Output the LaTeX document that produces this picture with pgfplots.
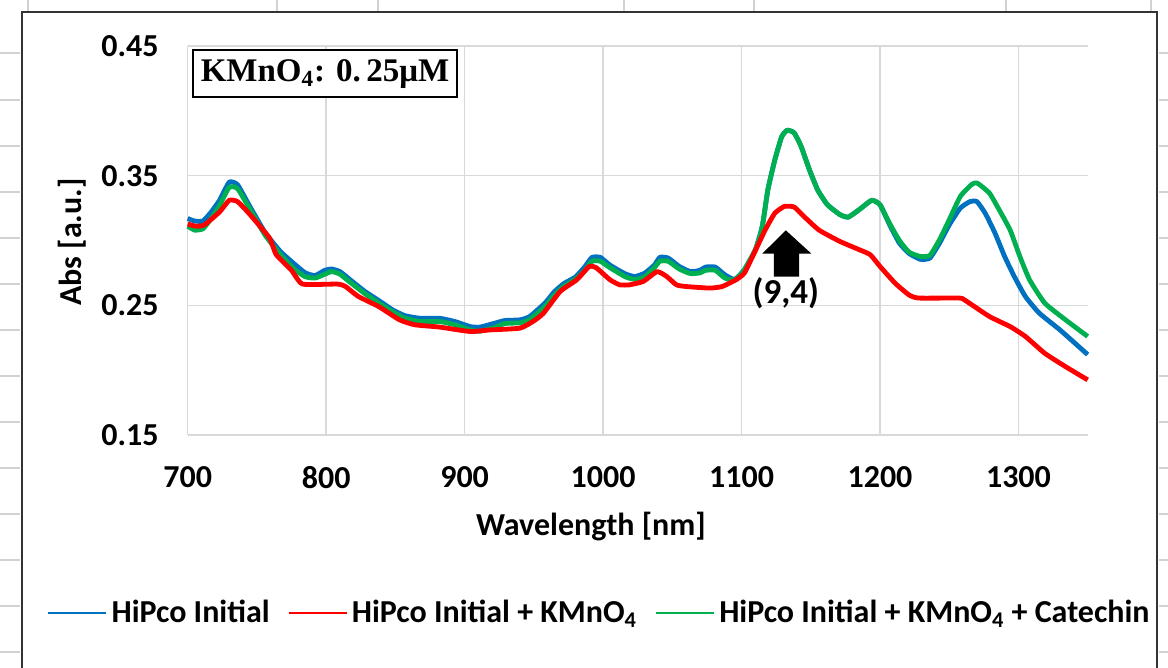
\documentclass[border=0pt]{standalone}
\usepackage{pgfplots}
\usepackage{pgfplotstable}
\pgfplotsset{compat=1.18}
\usepackage{fontspec}
\setmainfont{Carlito}
\newfontfamily\boxfont{Liberation Serif}
\definecolor{exblue}{RGB}{0,112,192}
\definecolor{exred}{RGB}{255,0,0}
\definecolor{exgreen}{RGB}{0,176,80}
\definecolor{gridgray}{RGB}{217,217,217}
\definecolor{sheetgray}{RGB}{210,210,210}

\pgfplotstableread{
wl A
700 0.317
705 0.315
711 0.315
717 0.322
723 0.331
730 0.345
736 0.343
745 0.326
756 0.306
767 0.2915
778 0.281
785 0.275
792 0.273
799 0.277
804 0.278
810 0.276
817 0.270
828 0.2607
839 0.253
848 0.2465
857 0.242
868 0.240
882 0.240
893 0.2375
904 0.2336
911 0.2332
922 0.2363
929 0.2383
940 0.2388
947 0.2414
958 0.2517
965 0.2607
972 0.267
980 0.2718
987 0.280
992 0.287
998 0.287
1005 0.281
1016 0.2743
1023 0.2722
1030 0.2748
1037 0.281
1041 0.287
1047 0.2865
1055 0.280
1063 0.276
1070 0.277
1074 0.2795
1081 0.2795
1088 0.2735
1095 0.270
1102 0.2774
1110 0.2929
1115 0.311
1119 0.339
1124 0.362
1129 0.380
1133 0.385
1138 0.383
1143 0.3726
1149 0.3546
1155 0.339
1162 0.3276
1171 0.320
1177 0.318
1185 0.3238
1194 0.331
1200 0.3276
1207 0.312
1214 0.298
1221 0.290
1229 0.2855
1236 0.2864
1243 0.298
1250 0.312
1258 0.325
1265 0.330
1270 0.330
1276 0.321
1283 0.3058
1290 0.2877
1297 0.2722
1305 0.2568
1315 0.244
1330 0.231
1350 0.212
}\tblue

\pgfplotstableread{
wl A
700 0.3127
706 0.311
712 0.312
723 0.322
730 0.331
736 0.330
745 0.320
759 0.302
764 0.289
775 0.277
783 0.2664
808 0.2664
814 0.2645
823 0.257
838 0.249
853 0.2388
864 0.235
882 0.2332
904 0.2298
918 0.231
940 0.2324
950 0.238
957 0.244
969 0.2607
981 0.2697
990 0.280
995 0.279
1005 0.2697
1012 0.2658
1019 0.2658
1029 0.2684
1039 0.276
1046 0.2722
1053 0.2658
1060 0.2645
1077 0.2633
1086 0.2645
1096 0.2697
1102 0.2748
1109 0.290
1117 0.308
1124 0.321
1131 0.3263
1138 0.3258
1145 0.3186
1156 0.308
1171 0.2993
1185 0.2929
1193 0.289
1200 0.280
1211 0.267
1221 0.258
1228 0.2556
1257 0.2556
1261 0.2542
1279 0.2414
1294 0.2336
1305 0.226
1319 0.213
1334 0.2027
1350 0.1925
}\tred

\pgfplotstableread{
wl A
700 0.311
705 0.308
711 0.309
717 0.317
723 0.327
730 0.341
736 0.340
745 0.324
756 0.304
767 0.289
778 0.277
785 0.272
792 0.271
799 0.274
804 0.276
810 0.274
817 0.268
828 0.259
839 0.251
848 0.245
857 0.240
868 0.2375
882 0.2375
893 0.235
904 0.231
911 0.230
922 0.233
929 0.236
940 0.2365
947 0.239
958 0.249
965 0.258
972 0.265
980 0.270
987 0.277
992 0.284
998 0.284
1005 0.279
1016 0.272
1023 0.270
1030 0.272
1037 0.279
1041 0.284
1047 0.284
1055 0.278
1063 0.2745
1070 0.275
1074 0.277
1081 0.277
1088 0.271
1095 0.2695
1102 0.2774
1110 0.2929
1115 0.311
1119 0.339
1124 0.362
1129 0.380
1133 0.385
1138 0.383
1143 0.3726
1149 0.3546
1155 0.339
1162 0.3276
1171 0.320
1177 0.318
1185 0.3238
1194 0.331
1200 0.3276
1207 0.313
1214 0.300
1221 0.291
1229 0.2877
1236 0.2885
1243 0.3006
1250 0.316
1258 0.334
1266 0.343
1270 0.3444
1279 0.3366
1286 0.3238
1294 0.308
1301 0.2877
1308 0.2697
1319 0.2517
1334 0.2388
1350 0.226
}\tgreen

\begin{document}
\begin{tikzpicture}
\useasboundingbox (0pt,0pt) rectangle (584pt,334pt);
\foreach \yy in {53,100,146,192,238,284,330,376,422,468,514,560,606,652}{
  \pgfmathsetmacro{\yp}{(668-\yy)*0.5}
  \draw[sheetgray, line width=0.6pt] (0pt,\yp pt) -- (10pt,\yp pt);
  \draw[sheetgray, line width=0.6pt] (579.5pt,\yp pt) -- (584pt,\yp pt);
}
\foreach \xx in {28,277,378,624,754,1006,1151}{
  \pgfmathsetmacro{\xp}{\xx*0.5}
  \draw[sheetgray, line width=0.6pt] (\xp pt,328.5pt) -- (\xp pt,334pt);
}
\draw[line width=1.2pt, black!80] (11pt,-2pt) -- (11pt,328pt) -- (578.5pt,328pt) -- (578.5pt,-2pt);

\begin{axis}[
  at={(93.85pt,116.5pt)}, anchor=south west,
  scale only axis, width=450pt, height=194.5pt,
  xmin=700, xmax=1350, ymin=0.15, ymax=0.45,
  xtick={700,800,900,1000,1100,1200,1300}, ytick={0.15,0.25,0.35,0.45},
  axis lines*=left,
  axis line style={draw=gridgray, line width=0.8pt},
  grid=major, grid style={gridgray, line width=0.8pt},
  major tick length=0pt,
  /pgf/number format/assume math mode=true,
  yticklabel style={/pgf/number format/fixed, /pgf/number format/fixed zerofill, /pgf/number format/precision=2, xshift=-11pt},
  xticklabel style={/pgf/number format/set thousands separator={}, yshift=-12pt},
  tick label style={font=\fontsize{16}{18}\selectfont\bfseries, text=black},
  xlabel={Wavelength [nm]},
  ylabel={Abs [a.u.]},
  label style={font=\fontsize{16}{18}\selectfont\bfseries},
  xlabel style={at={(axis description cs:0.448,-0.2365)}, anchor=center},
  ylabel style={at={(axis description cs:-0.1286,0.496)}, anchor=center},
  legend columns=3,
  legend style={at={(axis description cs:0.4587,-0.4576)}, anchor=center,
    draw=none, fill=none, font=\fontsize{16}{18}\selectfont\bfseries,
    /tikz/every even column/.append style={column sep=7pt}},
  legend cell align=left,
  legend image code/.code={\draw[#1] (0pt,0pt) -- (29pt,0pt);},
  clip=false,
]
\addplot[exblue, line width=2.4pt, line join=round, smooth, tension=0.3, forget plot] table[x=wl, y=A] {\tblue};
\addplot[exgreen, line width=2.4pt, line join=round, smooth, tension=0.3, forget plot] table[x=wl, y=A] {\tgreen};
\addplot[exred, line width=2.4pt, line join=round, smooth, tension=0.3, forget plot] table[x=wl, y=A] {\tred};

\addlegendimage{exblue, line width=1.1pt}
\addlegendentry{HiPco Initial}
\addlegendimage{exred, line width=1.1pt}
\addlegendentry{HiPco Initial + KMnO\textsubscript{4}}
\addlegendimage{exgreen, line width=1.1pt}
\addlegendentry{HiPco Initial + KMnO\textsubscript{4} + Catechin}

\coordinate (p1) at (axis cs:1132,0.3078);
\coordinate (p2) at (axis cs:1150.5,0.2898);
\coordinate (p3) at (axis cs:1141.6,0.2898);
\coordinate (p4) at (axis cs:1141.6,0.2722);
\coordinate (p5) at (axis cs:1123.3,0.2722);
\coordinate (p6) at (axis cs:1123.3,0.2898);
\coordinate (p7) at (axis cs:1114.9,0.2898);
\coordinate (lab) at (axis cs:1132,0.2594);
\coordinate (box) at (axis cs:703,0.4475);
\end{axis}
\fill[black] (p1) -- (p2) -- (p3) -- (p4) -- (p5) -- (p6) -- (p7) -- cycle;
\node at (lab) {\bfseries\fontsize{17.5}{20}\selectfont (9,4)};
\node[draw=black, line width=0.9pt, fill=white, anchor=north west, inner xsep=4pt, inner ysep=3pt, minimum height=23.5pt] at (box) {\boxfont\bfseries\fontsize{16.5}{19}\selectfont KMnO\textsubscript{4}: 0.\,25μM};
\end{tikzpicture}
\end{document}
